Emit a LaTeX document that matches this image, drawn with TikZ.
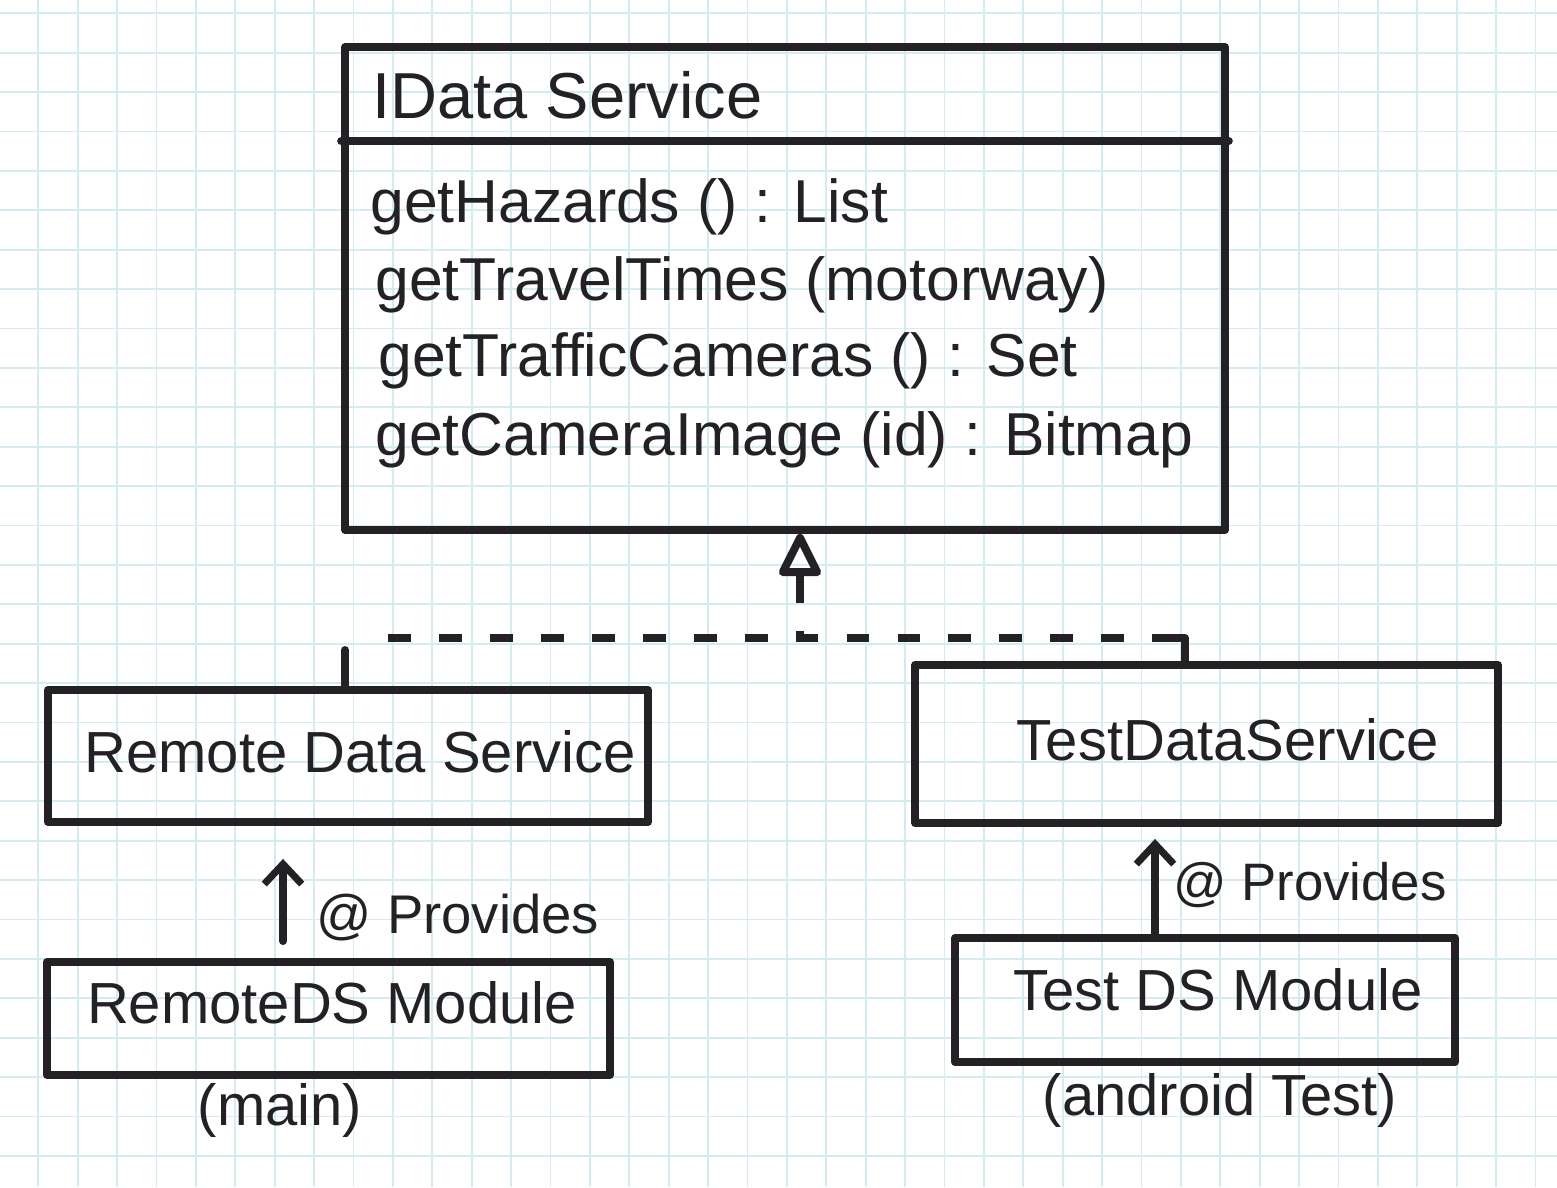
\documentclass[tikz,border=0pt]{standalone}
\usepackage{fontspec}
\setmainfont{Liberation Sans}
\usetikzlibrary{arrows.meta,calc}
\definecolor{ink}{RGB}{35,33,36}
\definecolor{gridc}{RGB}{212,236,240}
\begin{document}
\begin{tikzpicture}[x=0.02cm,y=-0.02cm,
  ink line/.style={draw=ink, line width=4.5pt, line cap=round, line join=round},
  box/.style={ink line, rectangle, inner sep=0pt},
  lbl/.style={text=ink, inner sep=0pt, font=\fontsize{33}{40}\selectfont},
  meth/.style={text=ink, inner sep=0pt, anchor=base west, font=\fontsize{34.5}{42}\selectfont},
  dash line/.style={draw=ink, line width=4.5pt, dash pattern=on 13pt off 16pt},
  provides/.style={ink line, -{Straight Barb[length=0.4cm, width=0.75cm, line width=4pt]}},
  realize/.style={ink line, -{Triangle[open, round, length=0.95cm, width=0.9cm]}}
]
\useasboundingbox (0,0) rectangle (1557,1187);
\fill[white] (0,0) rectangle (1557,1187);
\foreach \i in {0,...,39} \draw[gridc, line width=1pt] ({38.3+39.4*\i},0) -- ({38.3+39.4*\i},1187);
\foreach \j in {0,...,30} \draw[gridc, line width=1pt] (0,{13.3+39.4*\j}) -- (1557,{13.3+39.4*\j});

% interface box
\node[box, minimum width=17.6cm, minimum height=9.66cm] (ids) at (785,288.5) {};
\draw[ink line] ([shift={(0,98)}]ids.north west) -- ([shift={(0,98)}]ids.north east);
\node[lbl, font=\fontsize{37}{44}\selectfont, anchor=base west] (title) at (372,118) {IData Service};
\node[meth] (m1) at (370,222) {getHazards () : List};
\node[meth] (m2) at (375,300) {getTravelTimes (motorway)};
\node[meth] (m3) at (378,376) {getTrafficCameras () : Set};
\node[meth] (m4) at (375,455) {getCameraImage (id) : Bitmap};

% implementation boxes
\node[box, minimum width=12cm, minimum height=2.64cm] (rds) at (348,756) {};
\node[lbl] (rdst) at (360,752) {Remote Data Service};
\node[box, minimum width=11.66cm, minimum height=3.16cm] (tds) at (1206.5,744) {};
\node[lbl] (tdst) at (1228,740) {TestDataService};

% module boxes
\node[box, minimum width=11.26cm, minimum height=2.26cm] (rdm) at (328.5,1018.5) {};
\node[lbl] (rdmt) at (332,1003) {RemoteDS Module};
\node[box, minimum width=10cm, minimum height=2.48cm] (tdm) at (1205,1000) {};
\node[lbl] (tdmt) at (1218,990) {Test DS Module};
\node[lbl] (mainl) at (280,1110) {(main)};
\node[lbl] (andl) at (1220,1100) {(android Test)};

% realization connector
\coordinate (j) at (800,638);
\coordinate (tb) at (800,580);
\coordinate (lx) at (345,0);
\coordinate (rx) at (1185,0);
\coordinate (ld) at (388,0);
\draw[dash line] (tb) -- (j);
\draw[dash line] (ld |- j) -- (rx |- j);
\draw[ink line] (lx |- rds.north) -- ([shift={(0,12)}]lx |- j);
\draw[ink line] ([shift={(-22,0)}]rx |- j) -- (rx |- j) -- (rx |- tds.north);
\draw[realize] (tb) -- (ids.south -| tb);

% provides arrows
\coordinate (la) at (283,0);
\coordinate (ra) at (1155,0);
\draw[provides, shorten <=0.34cm, shorten >=0.66cm] (la |- rdm.north) -- (la |- rds.south);
\draw[provides, shorten >=0.24cm] (ra |- tdm.north) -- (ra |- tds.south);
\node[lbl, font=\fontsize{31}{37}\selectfont] (p1) at (458,918) {@ Provides};
\node[lbl, font=\fontsize{30}{36}\selectfont] (p2) at (1310,885) {@ Provides};
\end{tikzpicture}
\end{document}
